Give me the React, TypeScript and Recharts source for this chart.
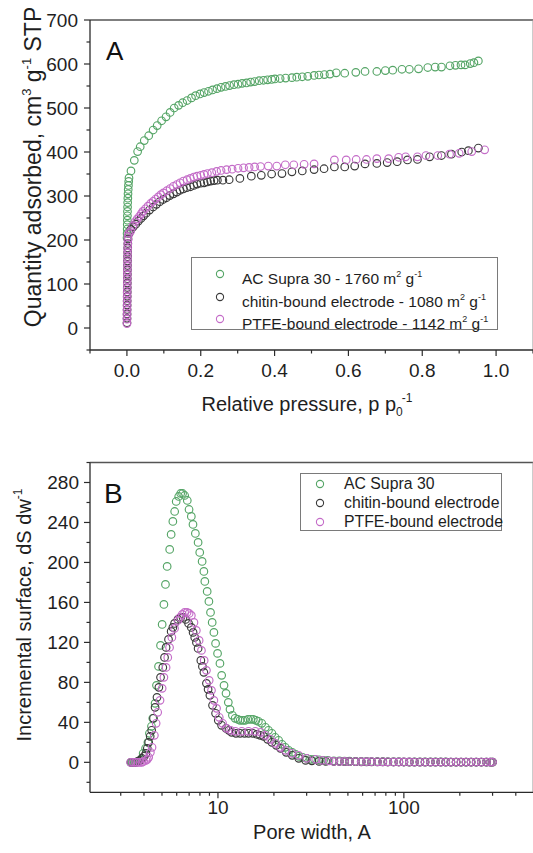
import React from "react";
import { ScatterChart, Scatter, XAxis, YAxis, ReferenceLine, Legend, Label } from "recharts";

const FONT = '"Liberation Sans", Arial, Helvetica, sans-serif';
const AXIS = "#2b2b2b";
const GREEN = "#55a566";
const BLACK = "#3a3a3a";
const PINK = "#c46cc8";

// ---- Panel A: N2 isotherms (relative pressure vs quantity adsorbed) ----
const P_AC = [0.0003, 0.0005, 0.0007, 0.0009, 0.0011, 0.0013, 0.0015, 0.0018, 0.0021, 0.0025, 0.003, 0.0035, 0.0041, 0.0048, 0.0056,
  0.011, 0.02, 0.029, 0.036, 0.047, 0.059, 0.071, 0.082, 0.094, 0.106, 0.117, 0.128, 0.14, 0.151, 0.163, 0.175, 0.186, 0.198,
  0.209, 0.221, 0.232, 0.244, 0.255, 0.267, 0.278, 0.29, 0.301, 0.312, 0.324, 0.335, 0.346, 0.358, 0.37, 0.381, 0.392, 0.401,
  0.415, 0.43, 0.447, 0.46, 0.475, 0.49, 0.507, 0.52, 0.535, 0.55, 0.567, 0.59, 0.62, 0.645, 0.677, 0.7, 0.72, 0.745, 0.765,
  0.79, 0.815, 0.835, 0.852, 0.875, 0.89, 0.905, 0.916, 0.93, 0.94, 0.952];
const Q_AC = [205, 215, 225, 235, 245, 255, 265, 275, 285, 295, 305, 315, 324, 333, 341,
  357, 381, 401, 412, 426, 437, 450, 460, 471, 480, 490, 500, 506, 512, 517, 523, 528, 532,
  535, 538, 541, 544, 547, 549, 551, 553, 554, 556, 557, 559, 560, 562, 563, 564, 565, 566,
  567, 568, 569, 570, 571, 572, 574, 575, 576, 577, 580, 579, 581, 583, 583, 585, 586, 588, 588,
  589, 592, 593, 593, 596, 597, 598, 598, 601, 603, 607];

const P_CHITIN = [0.0002, 0.0003, 0.0004, 0.0005, 0.0006, 0.0007, 0.0008, 0.0009, 0.001, 0.0011, 0.0012, 0.0013, 0.0014, 0.0015,
  0.0016, 0.0018, 0.002, 0.0022, 0.0025, 0.003, 0.006, 0.011, 0.017, 0.024, 0.031, 0.038, 0.045, 0.052, 0.061, 0.071, 0.08,
  0.089, 0.098, 0.107, 0.116, 0.126, 0.135, 0.144, 0.153, 0.162, 0.172, 0.181, 0.19, 0.2, 0.209, 0.218, 0.227, 0.236, 0.245,
  0.26, 0.277, 0.306, 0.337, 0.364, 0.392, 0.42, 0.447, 0.475, 0.507, 0.534, 0.562, 0.59, 0.617, 0.645, 0.677, 0.705, 0.732,
  0.76, 0.787, 0.82, 0.852, 0.879, 0.907, 0.925, 0.952];
const Q_CHITIN = [12, 22, 32, 42, 52, 62, 72, 82, 92, 102, 112, 122, 132, 142,
  152, 162, 172, 182, 192, 202, 215, 224, 230, 236, 243, 249, 255, 261, 268, 275, 281,
  287, 292, 296, 301, 305, 309, 313, 316, 319, 321, 324, 327, 329, 330, 332, 334, 335, 336,
  336, 337, 340, 345, 347, 350, 351, 355, 357, 360, 362, 366, 366, 368, 373, 374, 376, 378,
  382, 383, 389, 392, 395, 400, 403, 409];

const P_PTFE = [0.0001, 0.0002, 0.0003, 0.0004, 0.0005, 0.0006, 0.0007, 0.0008, 0.0009, 0.001, 0.0011, 0.0012, 0.0013, 0.0014,
  0.0015, 0.0016, 0.0018, 0.002, 0.0023, 0.0026, 0.003, 0.005, 0.01, 0.016, 0.023, 0.028, 0.034, 0.039, 0.043, 0.05, 0.057,
  0.064, 0.071, 0.078, 0.085, 0.092, 0.099, 0.108, 0.117, 0.126, 0.135, 0.144, 0.153, 0.163, 0.172, 0.181, 0.19, 0.2, 0.209,
  0.218, 0.23, 0.243, 0.255, 0.27, 0.285, 0.301, 0.316, 0.331, 0.346, 0.362, 0.383, 0.406, 0.429, 0.452, 0.48, 0.507, 0.562,
  0.594, 0.621, 0.649, 0.677, 0.709, 0.736, 0.755, 0.787, 0.81, 0.842, 0.874, 0.9, 0.934, 0.969];
const Q_PTFE = [10, 20, 30, 40, 50, 60, 70, 80, 90, 100, 110, 120, 130, 140,
  150, 160, 170, 180, 190, 200, 208, 215, 220, 232, 242, 248, 254, 260, 265, 271, 277,
  283, 288, 293, 298, 303, 307, 312, 317, 322, 326, 330, 334, 337, 340, 343, 345, 347, 349,
  351, 353, 356, 358, 360, 361, 363, 364, 365, 366, 367, 368, 368, 371, 371, 372, 373, 382,
  382, 383, 383, 385, 385, 388, 389, 389, 392, 392, 395, 397, 401, 405];

const P_TICKS = [-0.1, 0, 0.1, 0.2, 0.3, 0.4, 0.5, 0.6, 0.7, 0.8, 0.9, 1.0, 1.1];
const P_LABELS = ["0.0", "0.2", "0.4", "0.6", "0.8", "1.0"];
const Q_TICKS = [-50, 0, 50, 100, 150, 200, 250, 300, 350, 400, 450, 500, 550, 600, 650, 700];

// ---- Panel B: pore size distribution (pore width vs incremental surface) ----
const W_AC = [3.45, 3.55, 3.65, 3.75, 3.86, 3.96, 4.08, 4.2, 4.28, 4.39, 4.46, 4.59, 4.67, 4.79, 4.91, 5.01, 5.12, 5.22, 5.33, 5.5,
  5.6, 5.72, 5.85, 5.96, 6.15, 6.3, 6.45, 6.62, 6.84, 6.99, 7.19, 7.34, 7.56, 7.82, 7.98, 8.22, 8.4, 8.5, 8.75, 8.94,
  9.12, 9.31, 9.51, 9.71, 9.95, 10.25, 10.47, 10.78, 11.05, 11.37, 11.61, 11.96, 12.37, 12.8, 13.16, 13.6, 14.0, 14.5, 15.0, 15.5,
  16.0, 16.5, 17.2, 18.0, 18.7, 19.5, 20.3, 21.2, 22.1, 23.0, 24.0, 25.1, 26.2, 27.2, 28.5, 30, 31.5, 33, 35, 37, 39];
const S_AC = [0, 0, 0, 1, 3, 9, 14, 20, 29, 36, 44, 59, 77, 96, 117, 138, 158, 178, 196, 213,
  228, 241, 251, 261, 266, 269, 269, 267, 262, 253, 246, 238, 229, 220, 210, 201, 191, 181, 171, 161,
  150, 140, 130, 119, 109, 99, 87, 77, 69, 60, 53, 47, 44, 43, 42, 42, 42, 43, 43, 43,
  42, 41, 39, 35, 32, 29, 25, 22, 18, 15, 12, 10, 8, 6, 5, 4, 3, 3, 2.5, 2, 2];

const W_CHITIN = [3.4, 3.5, 3.6, 3.7, 3.8, 3.9, 4.0, 4.1, 4.17, 4.24, 4.32, 4.4, 4.5, 4.59, 4.7, 4.81, 4.91, 5.05, 5.16, 5.26,
  5.42, 5.6, 5.72, 5.84, 6.09, 6.3, 6.49, 6.7, 6.95, 7.19, 7.35, 7.5, 7.66, 7.82, 8.09, 8.25, 8.4, 8.67, 8.85, 9.05,
  9.35, 9.71, 10.04, 10.46, 11.05, 11.45, 11.85, 12.5, 13.16, 13.9, 14.6, 15.4, 16.2, 16.9, 17.6, 18.5, 19.5, 20.6, 21.7, 23.3,
  25.1, 27.2, 29.6, 32, 35, 38];
const S_CHITIN = [0, 0, 0, 1, 2, 4, 6, 9, 14, 20, 26, 32, 44, 55, 65, 75, 85, 95, 105, 115,
  123, 131, 135, 139, 143, 145, 145, 143, 139, 135, 130, 125, 120, 114, 102, 96, 90, 79, 73, 67,
  57, 49, 42, 37, 34, 32, 30, 29, 29, 29, 29, 29, 28, 27, 26, 23, 20, 17, 14, 10,
  7, 4, 2, 1.5, 1, 1];

const W_PTFE = [3.39, 3.5, 3.6, 3.7, 3.8, 3.9, 3.98, 4.1, 4.17, 4.24, 4.33, 4.42, 4.55, 4.65, 4.74, 4.88, 5.01, 5.12, 5.26, 5.37,
  5.49, 5.65, 5.84, 6.09, 6.25, 6.43, 6.62, 6.82, 7.0, 7.19, 7.43, 7.65, 7.92, 8.15, 8.43, 8.67, 8.97, 9.23, 9.51, 9.83,
  10.16, 10.59, 11.13, 11.7, 12.4, 13.43, 14.6, 15.88, 17.0, 18.0, 19.2, 20.4, 21.7, 23.1, 25.0, 27.2, 30.0, 33.6, 36.5, 39.6];
const S_PTFE = [0, 0, 0, 0, 0, 0, 1, 2, 3, 5, 10, 15, 27, 39, 50, 62, 74, 85, 95, 105,
  115, 125, 134, 142, 145, 148, 150, 150, 149, 147, 140, 132, 122, 112, 102, 92, 82, 72, 62, 54,
  45, 39, 34, 32, 31, 31, 31, 31, 30, 27, 23, 19, 15, 12, 9, 7, 4, 3, 2, 1.5];

// flat tail, large pores
const W_TAIL = [42, 45, 48, 51, 55, 59, 63, 67, 72, 77, 82, 88, 94, 100, 107, 114, 122, 130, 139, 148,
  158, 168, 179, 191, 203, 216, 230, 245, 261, 278, 292, 300];
const S_TAIL_AC = [1.5, 1.5, 1.2, 1.2, 1, 1, 1, 0.8, 0.8, 0.8, 0.6, 0.6, 0.6, 0.5, 0.5, 0.5, 0.5, 0.4, 0.4, 0.4,
  0.4, 0.4, 0.3, 0.3, 0.3, 0.3, 0.3, 0.3, 0.3, 0.3, 0.3, 0.3];
const S_TAIL_CHITIN = [0.8, 0.8, 0.7, 0.6, 0.6, 0.5, 0.5, 0.4, 0.4, 0.4, 0.3, 0.3, 0.3, 0.3, 0.2, 0.2, 0.2, 0.2, 0.2, 0.2,
  0.2, 0.2, 0.2, 0.2, 0.2, 0.2, 0.2, 0.2, 0.2, 0.2, 0.2, 0.2];
const S_TAIL_PTFE = [1, 1, 0.9, 0.8, 0.8, 0.7, 0.6, 0.6, 0.5, 0.5, 0.5, 0.4, 0.4, 0.4, 0.4, 0.3, 0.3, 0.3, 0.3, 0.3,
  0.3, 0.3, 0.3, 0.3, 0.3, 0.3, 0.3, 0.3, 0.3, 0.3, 0.3, 0.3];

const W_TICKS = [3, 4, 5, 6, 7, 8, 9, 10, 20, 30, 40, 50, 60, 70, 80, 90, 100, 200, 300, 400];
const S_TICKS = [-20, 0, 20, 40, 60, 80, 100, 120, 140, 160, 180, 200, 220, 240, 260, 280, 300];

const NAMES_A = ["AC Supra 30 - 1760", "chitin-bound electrode - 1080", "PTFE-bound electrode - 1142"];
const NAMES_B = ["AC Supra 30", "chitin-bound electrode", "PTFE-bound electrode"];
const COLORS = [GREEN, BLACK, PINK];

const zip = (xs: number[], ys: number[]) => xs.map((x, i) => ({ x, y: ys[i] }));

const ring = (color: string) => (p: any) =>
  p.cx == null ? <g /> : <circle cx={p.cx} cy={p.cy} r={3.8} fill="none" stroke={color} strokeWidth={1.15} />;

const TICK_FS = 19;

const PressureTick = (p: any) => {
  const v = Math.round(p.payload.value * 10);
  const major = v % 2 === 0 && v >= 0 && v <= 10;
  return (
    <g>
      <line x1={p.x} x2={p.x} y1={p.y} y2={p.y + (major ? 6 : 3.5)} stroke={AXIS} strokeWidth={1.2} />
      {major && (
        <text x={p.x} y={p.y + 27} textAnchor="middle" fontSize={TICK_FS} fontFamily={FONT} fill="#1e1e1e">
          {P_LABELS[v / 2]}
        </text>
      )}
    </g>
  );
};

const QuantityTick = (p: any) => {
  const v = p.payload.value;
  const major = v % 100 === 0;
  return (
    <g>
      <line x1={p.x} x2={p.x - (major ? 6 : 3.5)} y1={p.y} y2={p.y} stroke={AXIS} strokeWidth={1.2} />
      {major && (
        <text x={p.x - 12} y={p.y + 7} textAnchor="end" fontSize={TICK_FS} fontFamily={FONT} fill="#1e1e1e">
          {v}
        </text>
      )}
    </g>
  );
};

const WidthTick = (p: any) => {
  const v = p.payload.value;
  const major = v === 10 || v === 100;
  return (
    <g>
      <line x1={p.x} x2={p.x} y1={p.y} y2={p.y + (major ? 6 : 3.5)} stroke={AXIS} strokeWidth={1.2} />
      {major && (
        <text x={p.x} y={p.y + 22} textAnchor="middle" fontSize={TICK_FS} fontFamily={FONT} fill="#1e1e1e">
          {v}
        </text>
      )}
    </g>
  );
};

const SurfaceTick = (p: any) => {
  const v = p.payload.value;
  const major = v % 40 === 0 && v >= 0 && v <= 280;
  return (
    <g>
      <line x1={p.x} x2={p.x - (major ? 6 : 3.5)} y1={p.y} y2={p.y} stroke={AXIS} strokeWidth={1.2} />
      {major && (
        <text x={p.x - 11} y={p.y + 7} textAnchor="end" fontSize={TICK_FS} fontFamily={FONT} fill="#1e1e1e">
          {v}
        </text>
      )}
    </g>
  );
};

const LegendBox = ({ names, units, rows, marker, text, size }: any) => (
  <div style={{ position: "relative", width: "100%", height: "100%", boxSizing: "border-box", border: "1px solid #7a7a7a", background: "#fff", fontFamily: FONT, fontSize: size, color: "#1e1e1e" }}>
    {names.map((n: string, i: number) => (
      <div key={n} style={{ position: "absolute", left: 0, top: rows[i] - 10, height: 20, lineHeight: "20px", whiteSpace: "nowrap" }}>
        <svg width={12} height={12} style={{ position: "absolute", left: marker - 6, top: 4 }}>
          <circle cx={6} cy={6} r={3.6} fill="none" stroke={COLORS[i]} strokeWidth={1.1} />
        </svg>
        <span style={{ position: "absolute", left: text }}>
          {n}
          {units && (
            <>
              {" m"}<sup style={{ fontSize: 9, verticalAlign: "7px" }}>2</sup>{" g"}<sup style={{ fontSize: 9, verticalAlign: "7px" }}>-1</sup>
            </>
          )}
        </span>
      </div>
    ))}
  </div>
);

export default function App() {
  const acA = zip(P_AC, Q_AC);
  const chA = zip(P_CHITIN, Q_CHITIN);
  const ptA = zip(P_PTFE, Q_PTFE);
  const acB = zip([...W_AC, ...W_TAIL], [...S_AC, ...S_TAIL_AC]);
  const chB = zip([...W_CHITIN, ...W_TAIL], [...S_CHITIN, ...S_TAIL_CHITIN]);
  const ptB = zip([...W_PTFE, ...W_TAIL], [...S_PTFE, ...S_TAIL_PTFE]);

  return (
    <div style={{ position: "absolute", left: 0, top: 0, width: 533, height: 853, overflow: "hidden", background: "#fff" }}>
      <div style={{ position: "absolute", left: 0, top: 0 }}>
        <ScatterChart width={533} height={420} margin={{ top: 20, right: 0, bottom: 0, left: 0 }}>
          <XAxis type="number" dataKey="x" domain={[-0.1, 1.1]} allowDataOverflow ticks={P_TICKS} interval={0}
            tick={PressureTick} tickSize={0} tickMargin={0} tickLine={false} height={70}
            axisLine={{ stroke: AXIS, strokeWidth: 1.3 }}>
            <Label content={() => (
              <text x={307} y={411} textAnchor="middle" fontSize={20} fontFamily={FONT} fill="#1e1e1e">
                Relative pressure, p p<tspan fontSize={12} dy={5}>0</tspan><tspan fontSize={12} dy={-14} dx={-1}>-1</tspan>
              </text>
            )} />
          </XAxis>
          <YAxis type="number" dataKey="y" domain={[-50, 700]} allowDataOverflow ticks={Q_TICKS} interval={0}
            tick={QuantityTick} tickSize={0} tickMargin={0} tickLine={false} width={90}
            axisLine={{ stroke: AXIS, strokeWidth: 1.3 }}>
            <Label content={() => (
              <text transform="translate(41,167) rotate(-90)" textAnchor="middle" fontSize={23} fontFamily={FONT} fill="#1e1e1e">
                Quantity adsorbed, cm<tspan fontSize={13} dy={-10}>3</tspan><tspan dy={10}> g</tspan>
                <tspan fontSize={13} dy={-10}>-1</tspan><tspan dy={10}> STP</tspan>
              </text>
            )} />
          </YAxis>
          <ReferenceLine y={700} stroke="#555" strokeWidth={1.3} />
          <ReferenceLine x={1.1} stroke="#999" strokeWidth={1} />
          <Scatter name={NAMES_A[0]} data={acA} shape={ring(GREEN)} isAnimationActive={false} />
          <Scatter name={NAMES_A[1]} data={chA} shape={ring(BLACK)} isAnimationActive={false} />
          <Scatter name={NAMES_A[2]} data={ptA} shape={ring(PINK)} isAnimationActive={false} />
          <Legend layout="vertical" align="center" verticalAlign="middle"
            wrapperStyle={{ left: 191, top: 257, width: 307, height: 73 }}
            content={() => <LegendBox names={NAMES_A} units rows={[16, 39, 61]} marker={28} text={50} size={15.5} />} />
        </ScatterChart>
        <div style={{ position: "absolute", left: 106, top: 36, fontFamily: FONT, fontSize: 26, lineHeight: "30px", color: "#111" }}>A</div>
      </div>

      <div style={{ position: "absolute", left: 0, top: 420 }}>
        <ScatterChart width={533} height={433} margin={{ top: 42.5, right: 0, bottom: 0, left: 0 }}>
          <XAxis type="number" dataKey="x" scale="log" domain={[2.05, 495]} allowDataOverflow ticks={W_TICKS} interval={0}
            tick={WidthTick} tickSize={0} tickMargin={0} tickLine={false} height={60.7}
            axisLine={{ stroke: AXIS, strokeWidth: 1.3 }}>
            <Label content={() => (
              <text x={312} y={419} textAnchor="middle" fontSize={20} fontFamily={FONT} fill="#1e1e1e">
                Pore width, A
              </text>
            )} />
          </XAxis>
          <YAxis type="number" dataKey="y" domain={[-30, 300]} allowDataOverflow ticks={S_TICKS} interval={0}
            tick={SurfaceTick} tickSize={0} tickMargin={0} tickLine={false} width={90}
            axisLine={{ stroke: AXIS, strokeWidth: 1.3 }}>
            <Label content={() => (
              <text transform="translate(31,195) rotate(-90)" textAnchor="middle" fontSize={20} fontFamily={FONT} fill="#1e1e1e">
                Incremental surface, dS dw<tspan fontSize={12} dy={-9}>-1</tspan>
              </text>
            )} />
          </YAxis>
          <ReferenceLine y={300} stroke="#555" strokeWidth={1.3} />
          <ReferenceLine x={495} stroke="#999" strokeWidth={1} />
          <Scatter name={NAMES_B[0]} data={acB} shape={ring(GREEN)} isAnimationActive={false} />
          <Scatter name={NAMES_B[1]} data={chB} shape={ring(BLACK)} isAnimationActive={false} />
          <Scatter name={NAMES_B[2]} data={ptB} shape={ring(PINK)} isAnimationActive={false} />
          <Legend layout="vertical" align="center" verticalAlign="middle"
            wrapperStyle={{ left: 300, top: 52.5, width: 202, height: 58.5 }}
            content={() => <LegendBox names={NAMES_B} rows={[10.5, 29.5, 48]} marker={19} text={43} size={15.8} />} />
        </ScatterChart>
        <div style={{ position: "absolute", left: 104, top: 58, fontFamily: FONT, fontSize: 28, lineHeight: "32px", color: "#111" }}>B</div>
      </div>
    </div>
  );
}
